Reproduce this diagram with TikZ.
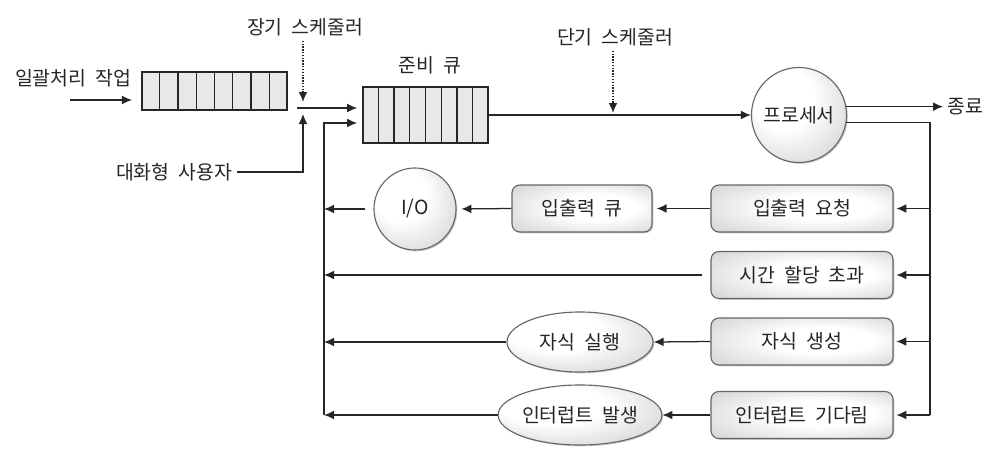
\documentclass[tikz,border=0pt]{standalone}
\usepackage{fontspec}
\setmainfont[WordSpace=2]{Noto Sans CJK KR}
\usetikzlibrary{arrows.meta,calc,shapes.geometric,shadows}

% soft light-to-grey fills for the round and boxed states
\pgfdeclareradialshading{orbfill}{\pgfpoint{-12bp}{12bp}}{color(0bp)=(white);color(16bp)=(white);color(52bp)=(black!30)}
\pgfdeclareradialshading{tilefill}{\pgfpoint{8bp}{2bp}}{color(0bp)=(white);color(14bp)=(white);color(46bp)=(black!24)}

\begin{document}
\begin{tikzpicture}[x=0.025cm,y=-0.025cm,
  font=\fontsize{13.8}{16}\selectfont, text=black!85,
  wire/.style={line width=0.9pt, draw=black!85},
  arr/.style={wire, -{Latex[length=2.5mm,width=2.2mm]}},
  dotarr/.style={line width=1pt, draw=black!85, densely dotted, -{Latex[length=2.5mm,width=2.2mm]}},
  queue/.style={draw=black!85, line width=0.9pt, fill=black!9, inner sep=0pt},
  shade/.style={drop shadow={shadow xshift=0.9pt, shadow yshift=-0.9pt, opacity=0.35, fill=black!60}},
  tile/.style={rectangle, rounded corners=0.2cm, draw=black!60, line width=0.8pt,
    shading=tilefill, shade, minimum width=4.55cm, minimum height=1.175cm, inner sep=0pt},
  orb/.style={circle, draw=black!60, line width=0.8pt, shading=orbfill, shade, inner sep=0pt},
  oval/.style={ellipse, draw=black!60, line width=0.8pt, shading=orbfill, shade,
    minimum width=3.65cm, minimum height=1.5cm, inner sep=0pt}]

\fill[white] (0,0) rectangle (996,463);
\useasboundingbox (0,0) rectangle (996,463);

% ---- entry side: batch jobs, job queue, long-term scheduler, interactive users
\node (batch) at (73,78) {일괄처리 작업};
\coordinate (batchin) at (70,100);
\coordinate (batchout) at (132,100);
\draw[arr] (batchin) -- (batchout);

\node[queue, minimum width=3.625cm, minimum height=0.95cm] (jq) at (214.5,91) {};
\foreach \i in {1,...,7}
  \draw[wire] ($(jq.south west)!\i/8!(jq.south east)$) -- ($(jq.north west)!\i/8!(jq.north east)$);

\node (lts) at (305,27) {장기 스케줄러};
\coordinate (ltsend) at (303,102);
\draw[dotarr] (lts.south -| ltsend) -- (ltsend);

\node (user) at (174,172) {대화형 사용자};
\coordinate (userturn) at (303,172);
\coordinate (userup) at (303,114);
\draw[arr] (user.east) -- (userturn) -- (userup);

% ---- ready queue and processor
\node (rqlabel) at (430,65) {준비 큐};
\node[queue, minimum width=3.125cm, minimum height=1.4cm] (rq) at (425.5,115) {};
\foreach \i in {1,...,7}
  \draw[wire] ($(rq.south west)!\i/8!(rq.south east)$) -- ($(rq.north west)!\i/8!(rq.north east)$);

\coordinate (merge) at (297,108);
\draw[arr, shorten >=0.13cm] (merge) -- (merge -| rq.west);

\node[orb, minimum size=2.375cm] (proc) at (799,115) {프로세서};
\draw[arr] (rq.east) -- (proc.west);

\node (sts) at (615,37) {단기 스케줄러};
\coordinate (stsend) at (613,113);
\draw[dotarr] (sts.south -| stsend) -- (stsend);

\node[anchor=west] (exit) at (943,107) {종료};
\draw[arr] (proc.10) -- (proc.10 -| exit.west);

% ---- events leaving the processor
\node[tile] (ioreq) at (802,208.5) {입출력 요청};
\node[tile] (timeout) at (802,275) {시간 할당 초과};
\node[tile] (fork) at (802,341.5) {자식 생성};
\node[tile] (intwait) at (802,415) {인터럽트 기다림};

\node[tile, minimum width=3.5cm] (ioq) at (582,208.5) {입출력 큐};
\node[orb, minimum size=2.05cm] (io) at (415,209) {I/O};
\node[oval] (child) at (580,342) {자식 실행};
\node[oval] (intr) at (580,415) {인터럽트 발생};

\coordinate (rtop) at (930,123);
\coordinate (rbot) at (930,415);
\draw[wire] (proc.-9) -| (rbot);
\foreach \b in {ioreq,timeout,fork,intwait}
  \draw[arr, shorten >=0.07cm] (\b.east -| rtop) -- (\b.east);

% ---- return paths to the ready queue
\coordinate (ltop) at (324,123);
\coordinate (lbot) at (324,415);
\draw[arr, shorten >=0.13cm] (lbot) -- (ltop) -- (ltop -| rq.west);

\draw[arr, shorten >=0.1cm] (ioreq.west) -- (ioq.east);
\draw[arr, shorten >=0.12cm] (ioq.west) -- (io.east);
\draw[arr, shorten <=0.2cm] (io.west) -- (io.west -| ltop);
\draw[arr, shorten <=0.2cm] (timeout.west) -- (timeout.west -| ltop);
\draw[arr] (fork.west) -- (child.east);
\draw[arr] (child.west) -- (child.west -| ltop);
\draw[arr] (intwait.west) -- (intr.east);
\draw[arr] (intr.west) -- (intr.west -| ltop);
\end{tikzpicture}
\end{document}
